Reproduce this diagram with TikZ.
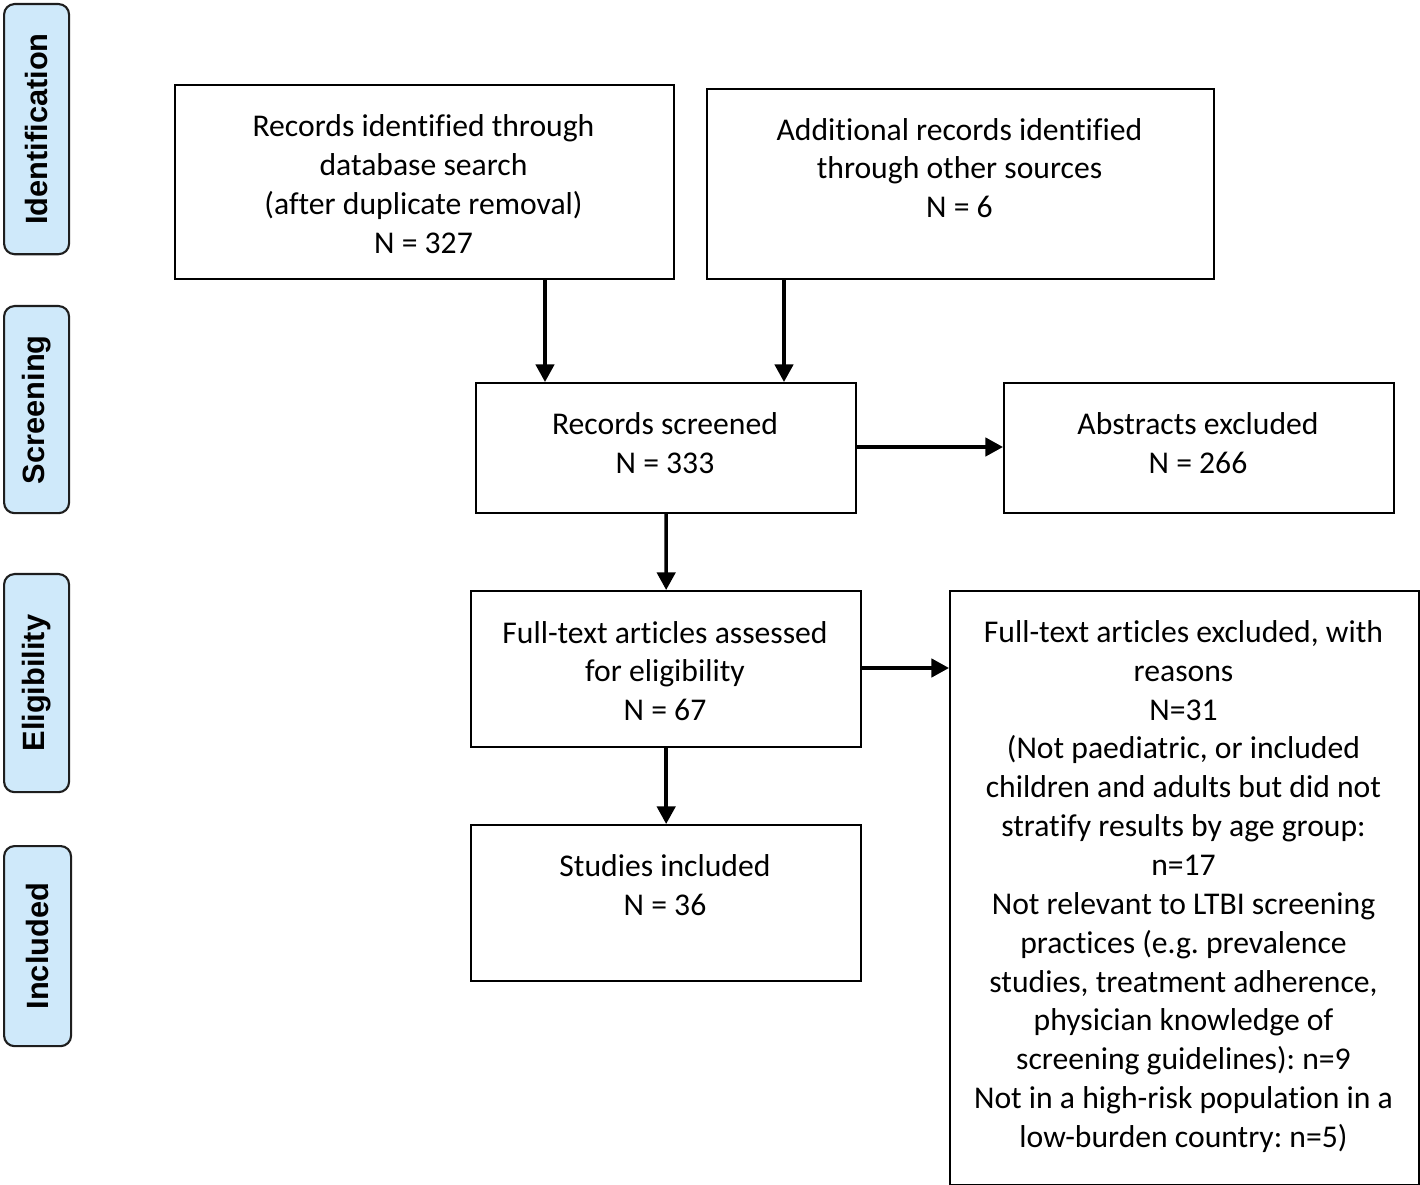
\documentclass[tikz,border=0pt]{standalone}
\usepackage{fontspec}
\setmainfont{Carlito}[Ligatures=NoCommon]
\newfontfamily\sidefont{Liberation Sans}
\usetikzlibrary{arrows.meta}
\frenchspacing
\definecolor{sideblue}{RGB}{207,233,250}
\definecolor{sideline}{RGB}{30,30,30}
\tikzset{
  boxed/.style={draw=black,line width=0.6pt,inner sep=0pt,anchor=north west},
  txt/.style={align=center,inner sep=0pt,font=\fontsize{9}{11.05}\selectfont},
  side/.style={draw=sideline,line width=0.6pt,fill=sideblue,rounded corners=3pt,inner sep=0pt,anchor=north west},
  sidetxt/.style={rotate=90,inner sep=0pt,font=\sidefont\bfseries\fontsize{8.75}{10}\selectfont},
  arr/.style={line width=1pt,-{Triangle[width=5.2pt,length=5pt]}}
}
\begin{document}
\begin{tikzpicture}[x=0.01cm,y=-0.01cm]
\useasboundingbox (0,0) rectangle (1420,1185);
% side labels
\node[side,minimum width=0.65cm,minimum height=2.50cm] (s1) at (3,3) {};
\node[sidetxt] (s1t) at (s1.center) {Identification};
\node[side,minimum width=0.65cm,minimum height=2.07cm] (s2) at (3,305) {};
\node[sidetxt] (s2t) at (s2.center) {Screening};
\node[side,minimum width=0.65cm,minimum height=2.18cm] (s3) at (3,573) {};
\node[sidetxt] (s3t) at (s3.center) {Eligibility};
\node[side,minimum width=0.67cm,minimum height=2.00cm] (s4) at (3,845) {};
\node[sidetxt] (s4t) at (s4.center) {Included};
% boxes
\node[boxed,minimum width=4.99cm,minimum height=1.94cm] (A) at (174,84) {};
\node[txt] (At) at (423.5,184) {Records identified through\\database search\\(after duplicate removal)\\N = 327};
\node[boxed,minimum width=5.07cm,minimum height=1.90cm] (B) at (706,88) {};
\node[txt] (Bt) at (959.5,168) {Additional records identified\\through other sources\\N = 6};
\node[boxed,minimum width=3.80cm,minimum height=1.30cm] (C) at (475,382) {};
\node[txt] (Ct) at (665,443.5) {Records screened\\N = 333};
\node[boxed,minimum width=3.90cm,minimum height=1.30cm] (D) at (1003,382) {};
\node[txt] (Dt) at (1198,443.5) {Abstracts excluded\\N = 266};
\node[boxed,minimum width=3.90cm,minimum height=1.56cm] (E) at (470,590) {};
\node[txt] (Et) at (665,671) {Full-text articles assessed\\for eligibility\\N = 67};
\node[boxed,minimum width=3.90cm,minimum height=1.56cm] (F) at (470,824) {};
\node[txt] (Ft) at (665,885.5) {Studies included\\N = 36};
\node[boxed,minimum width=4.69cm,minimum height=5.94cm] (G) at (949,590) {};
\node[txt] (Gt) at (1183.5,886.5) {Full-text articles excluded, with\\reasons\\N=31\\(Not paediatric, or included\\children and adults but did not\\stratify results by age group:\\n=17\\Not relevant to LTBI screening\\practices (e.g. prevalence\\studies, treatment adherence,\\physician knowledge of\\screening guidelines): n=9\\Not in a high-risk population in a\\low-burden country: n=5)};
% connectors
\coordinate (xa) at (545,0);
\coordinate (xb) at (784,0);
\coordinate (yc) at (0,447);
\coordinate (ye) at (0,668);
\draw[arr] (A.south -| xa) -- (C.north -| xa);
\draw[arr] (B.south -| xb) -- (C.north -| xb);
\draw[arr] (C.east |- yc) -- (D.west |- yc);
\draw[arr] (C.south) -- (E.north);
\draw[arr] (E.east |- ye) -- (G.west |- ye);
\draw[arr] (E.south) -- (F.north);
\end{tikzpicture}
\end{document}
